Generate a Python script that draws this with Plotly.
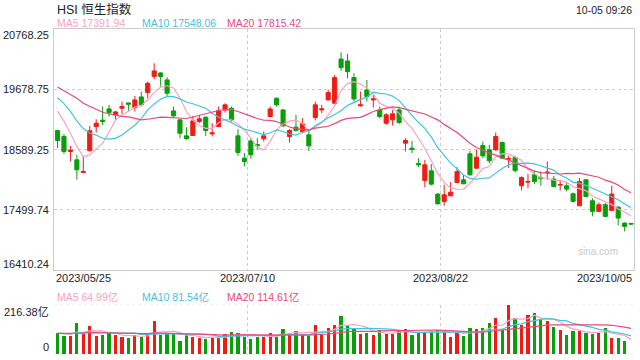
import plotly.graph_objects as go
import pandas as pd

# ---------------- data ----------------
opens = [18936, 18827, 18556, 18405, 18176, 18568, 19008, 19123, 19327, 19219,
         19339, 19436, 19352, 19544, 19623, 19912, 19978, 19852, 19291, 19129,
         18839, 18845, 19098, 19177, 18875, 19008, 19309, 19339, 18839, 18435,
         18749, 18683, 18785, 19189, 19520, 19309, 18827, 18996, 18912, 18857,
         19171, 19309, 19490, 19430, 20231, 20195, 19894, 19382, 19671, 19490,
         19309, 19068, 19129, 19309, 18707, 18616, 18339, 18032, 18206, 17784,
         17652, 17754, 17995, 18044, 18514, 18254, 18664, 18586, 18586, 18719,
         18417, 18447, 17935, 18001, 18134, 18086, 18170, 18056, 17947, 17935,
         17790, 17573, 18044, 17664, 17471, 17592, 17489, 17549, 17260, 17254]
highs = [18948, 18869, 18658, 18496, 18466, 19020, 19141, 19370, 19400, 19291,
         19460, 19436, 19562, 19641, 19822, 20153, 19990, 19900, 19370, 19141,
         18996, 19201, 19219, 19189, 19068, 19370, 19430, 19370, 18960, 18526,
         18797, 18797, 18918, 19370, 19532, 19327, 18960, 19219, 19159, 18948,
         19460, 19400, 19671, 19942, 20352, 20322, 19972, 19641, 19852, 19581,
         19370, 19249, 19309, 19370, 18797, 18749, 18435, 18405, 18327, 17802,
         17953, 18001, 18273, 18134, 18568, 18586, 18737, 18676, 18899, 18737,
         18477, 18465, 18104, 18152, 18212, 18194, 18375, 18116, 18044, 17995,
         17814, 18074, 18056, 17712, 17634, 17622, 17935, 17561, 17272, 17260]
lows = [18616, 18514, 18375, 18044, 18170, 18556, 18900, 19038, 19189, 19129,
        19237, 19279, 19279, 19370, 19520, 19864, 19731, 19562, 19171, 18797,
        18767, 18839, 19068, 18839, 18827, 18996, 19261, 19098, 18478, 18285,
        18423, 18586, 18737, 19171, 19370, 18996, 18719, 18918, 18887, 18568,
        19117, 19249, 19478, 19418, 20020, 19882, 19460, 19370, 19460, 19352,
        19159, 19038, 19026, 19056, 18556, 18526, 18273, 17905, 17941, 17592,
        17573, 17742, 17983, 17965, 18116, 18236, 18435, 18345, 18574, 18417,
        18254, 18176, 17851, 17893, 17965, 17935, 18044, 17905, 17851, 17833,
        17634, 17573, 17724, 17381, 17459, 17369, 17483, 17218, 17109, 17236]
closes = [18755, 18556, 18580, 18225, 18194, 18930, 19068, 19098, 19261, 19273,
          19370, 19412, 19490, 19400, 19791, 20015, 19912, 19611, 19201, 18887,
          18791, 19110, 19147, 18936, 18893, 19297, 19400, 19129, 18538, 18375,
          18496, 18658, 18839, 19327, 19400, 19020, 18936, 18936, 19056, 18658,
          19400, 19327, 19623, 19894, 20075, 20002, 19508, 19400, 19550, 19508,
          19189, 19219, 19237, 19080, 18755, 18592, 18315, 18315, 17965, 17610,
          17772, 17820, 18194, 17971, 18134, 18453, 18477, 18387, 18827, 18435,
          18429, 18212, 18086, 18013, 18013, 18062, 18182, 17923, 17959, 17875,
          17652, 18013, 17742, 17471, 17592, 17381, 17784, 17350, 17200, 17242]
# turnover, 亿
volumes = [91.6, 81, 81, 138, 87, 123, 81, 84, 94, 84,
           77, 72, 84, 77, 91.6, 145, 84, 91.6, 94, 59,
           88.5, 77, 72, 66.7, 72, 77, 88.5, 98.6, 94, 77,
           66.7, 77, 77, 94, 77, 110, 94, 101.6, 84, 81,
           129, 88.5, 116, 129, 168, 128, 110, 88.5, 94, 84,
           106, 87, 90, 106, 110, 84, 98.6, 91.6, 103, 107.6,
           98.6, 77, 91.6, 81, 116, 110, 116, 138, 158, 106,
           216.38, 158, 128, 171.6, 180, 152.6, 145, 119, 106, 84,
           101.6, 103, 94, 90, 94, 114.7, 72, 72, 60, 1.5]
# sessions before the visible window (only feed the moving averages)
pre_closes = [19840, 19895, 19699, 19949, 20049, 20049, 20297, 19867, 19762, 19743,
              19627, 19971, 19978, 19560, 19727, 19450, 19678, 19431, 19115]
pre_volumes = [88, 95, 102, 85, 90, 97, 84, 92, 99, 87,
               93, 86, 90, 95, 88, 96, 92, 89, 94]

price_ticks = [20768.25, 19678.75, 18589.25, 17499.74, 16410.24]
price_tick_text = ["20768.25", "19678.75", "18589.25", "17499.74", "16410.24"]
vol_ticks = [216.38, 0]
vol_tick_text = ["216.38亿", "0"]
date_labels = ["2023/05/25", "2023/07/10", "2023/08/22", "2023/10/05"]

title_text = "HSI 恒生指数"
time_text = "10-05 09:26"
price_ma_text = ["MA5 17391.94", "MA10 17548.06", "MA20 17815.42"]
vol_ma_text = ["MA5 64.99亿", "MA10 81.54亿", "MA20 114.61亿"]

# ---------------- styling ----------------
RED = "#f01c14"
GREEN = "#0b9e0b"
MA_COLORS = ["#f7a3c0", "#3fc4e0", "#e84a7b"]
GRID = "#cccccc"
FONT = "Liberation Sans, Arial, Noto Sans CJK SC, sans-serif"
W, H = 640, 360
L_PX, R_PX = 54.3, 634.3
P_TOP, P_BOT = 29.3, 270.0
V_TOP, V_BOT = 304.7, 354.3

n = len(closes)
x = list(range(n))


def ma(values, pre, k):
    s = pd.Series(pre + values, dtype=float)
    return s.rolling(k).mean().iloc[len(pre):].tolist()


fig = go.Figure()
fig.add_trace(go.Candlestick(
    x=x, open=opens, high=highs, low=lows, close=closes,
    increasing=dict(line=dict(color=RED, width=1), fillcolor=RED),
    decreasing=dict(line=dict(color=GREEN, width=1), fillcolor=GREEN),
    xaxis="x", yaxis="y", hoverinfo="skip"))
for k, c in zip([5, 10, 20], MA_COLORS):
    fig.add_trace(go.Scatter(x=x, y=ma(closes, pre_closes, k), mode="lines",
                             line=dict(color=c, width=1.2), xaxis="x", yaxis="y",
                             hoverinfo="skip"))

vol_colors = [RED if c >= o else GREEN for o, c in zip(opens, closes)]
fig.add_trace(go.Bar(x=x, y=volumes, marker=dict(color=vol_colors, line=dict(width=0)),
                     width=0.5, xaxis="x2", yaxis="y2", hoverinfo="skip"))
for k, c in zip([5, 10, 20], MA_COLORS):
    fig.add_trace(go.Scatter(x=x, y=ma(volumes, pre_volumes, k), mode="lines",
                             line=dict(color=c, width=1.2), xaxis="x2", yaxis="y2",
                             hoverinfo="skip"))

xdom = [L_PX / W, R_PX / W]
xr = [-0.5, n - 0.5]
third = n / 3.0
vgrid = [-0.5 + third, -0.5 + 2 * third]

fig.update_layout(
    width=W, height=H, margin=dict(l=0, r=0, t=0, b=0),
    paper_bgcolor="white", plot_bgcolor="white", showlegend=False,
    boxgap=0.2, boxgroupgap=0.2, bargap=0,
    font=dict(family=FONT, size=11, color="#222"),
    xaxis=dict(domain=xdom, range=xr, anchor="y", showline=True, mirror=True,
               linecolor=GRID, linewidth=1, tickvals=vgrid, showticklabels=False,
               ticks="", showgrid=True, gridcolor=GRID, griddash="3px,3px",
               zeroline=False, rangeslider=dict(visible=False), fixedrange=True),
    yaxis=dict(domain=[1 - P_BOT / H, 1 - P_TOP / H], range=[price_ticks[-1], price_ticks[0]],
               anchor="x", showline=True, mirror=True, linecolor=GRID, linewidth=1,
               tickvals=price_ticks[1:-1], showticklabels=False, ticks="",
               showgrid=True, gridcolor=GRID, griddash="3px,3px", zeroline=False,
               fixedrange=True),
    xaxis2=dict(domain=xdom, range=xr, anchor="y2", showline=False, tickvals=vgrid,
                showticklabels=False, ticks="", showgrid=True, gridcolor=GRID,
                griddash="3px,3px", zeroline=False, fixedrange=True),
    yaxis2=dict(domain=[1 - V_BOT / H, 1 - V_TOP / H], range=[0, vol_ticks[0]],
                anchor="x2", showline=False, showgrid=False, showticklabels=False,
                ticks="", zeroline=False, fixedrange=True),
)

# dotted top / bottom borders of the volume panel
for yv in vol_ticks:
    fig.add_shape(type="line", xref="paper", yref="y2", x0=xdom[0], x1=xdom[1],
                  y0=yv, y1=yv, line=dict(color=GRID, width=1, dash="3px,3px"), layer="below")

ann = []
# price tick labels
for i, (v, t) in enumerate(zip(price_ticks, price_tick_text)):
    shift = -6 if i == 0 else (6 if i == len(price_ticks) - 1 else 0)
    ann.append(dict(xref="paper", yref="y", x=51 / W, y=v, text=t, xanchor="right",
                    yanchor="middle", yshift=shift, showarrow=False,
                    font=dict(size=11, color="#222")))
# volume tick labels
for i, (v, t) in enumerate(zip(vol_ticks, vol_tick_text)):
    shift = -7 if i == 0 else 7
    ann.append(dict(xref="paper", yref="y2", x=51 / W, y=v, text=t, xanchor="right",
                    yanchor="middle", yshift=shift, showarrow=False,
                    font=dict(size=11, color="#222")))
# date labels
date_x = [xr[0], vgrid[0], vgrid[1], xr[1]]
anchors = ["left", "center", "center", "right"]
for dx, t, a in zip(date_x, date_labels, anchors):
    ann.append(dict(xref="x", yref="paper", x=dx, y=1 - 278 / H, text=t, xanchor=a,
                    yanchor="middle", showarrow=False, font=dict(size=11, color="#222")))
# title + time
ann.append(dict(xref="paper", yref="paper", x=55 / W, y=1 - 9 / H, text=title_text,
                xanchor="left", yanchor="middle", showarrow=False,
                font=dict(size=12.5, color="#222")))
ann.append(dict(xref="paper", yref="paper", x=R_PX / W, y=1 - 10 / H, text=time_text,
                xanchor="right", yanchor="middle", showarrow=False,
                font=dict(size=10.5, color="#222")))
# MA legends
leg_x = [55, 140, 225]
for lx, t, c in zip(leg_x, price_ma_text, MA_COLORS):
    ann.append(dict(xref="paper", yref="paper", x=lx / W, y=1 - 23 / H, text=t,
                    xanchor="left", yanchor="middle", showarrow=False,
                    font=dict(size=10.5, color=c)))
for lx, t, c in zip(leg_x, vol_ma_text, MA_COLORS):
    ann.append(dict(xref="paper", yref="paper", x=lx / W, y=1 - 297 / H, text=t,
                    xanchor="left", yanchor="middle", showarrow=False,
                    font=dict(size=10.5, color=c)))
# watermark
ann.append(dict(xref="paper", yref="paper", x=598 / W, y=1 - 252 / H, text="sina.com",
                xanchor="center", yanchor="middle", showarrow=False,
                font=dict(size=10, color="#c8c8c8")))
fig.update_layout(annotations=ann)

fig.write_html("out.html", config=dict(displayModeBar=False, staticPlot=True),
               post_script="document.body.style.margin='0';document.body.style.overflow='hidden';")
